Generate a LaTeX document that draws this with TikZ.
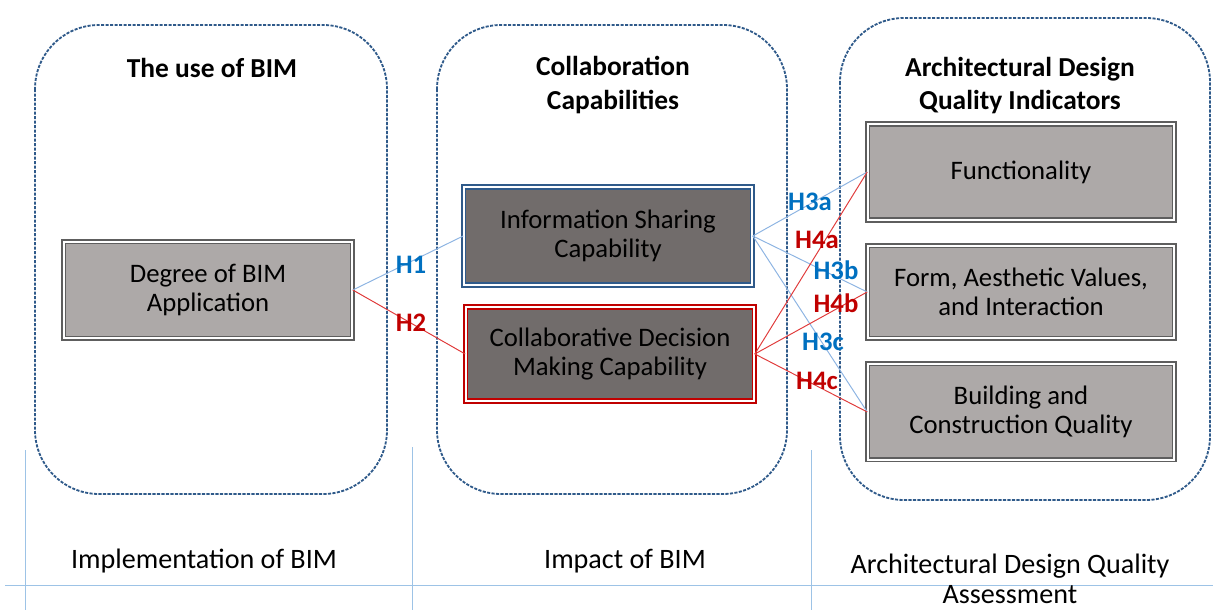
\documentclass[tikz,border=0pt]{standalone}
\usepackage{fontspec}
\setmainfont{Carlito}
\usetikzlibrary{positioning}

\definecolor{panelblue}{HTML}{2F5A8A}
\definecolor{boxgray}{HTML}{ADA9A8}
\definecolor{boxdark}{HTML}{716C6B}
\definecolor{rimgray}{HTML}{5E5E5E}
\definecolor{hblue}{HTML}{0070C0}
\definecolor{hred}{HTML}{C00000}
\definecolor{lineblue}{HTML}{8DB4E2}
\definecolor{linered}{HTML}{E03C3C}
\definecolor{rulerblue}{HTML}{9DC3E6}

\begin{document}
\begin{tikzpicture}[x=0.025cm,y=-0.025cm,
    panel/.style={draw=panelblue,line width=1.3pt,dash pattern=on 2.2pt off 1pt,rounded corners=1.6cm},
    title/.style={font=\fontsize{19.5}{23.5}\selectfont\bfseries,align=center},
    box/.style={draw=rimgray,double=white,double distance=1.4pt,line width=1.1pt,fill=boxgray,
        font=\fontsize{19}{20.8}\selectfont,align=center,inner sep=2pt},
    capbox/.style={box,fill=boxdark},
    hyp/.style={font=\fontsize{19}{20}\selectfont\bfseries,inner sep=1pt},
    blink/.style={draw=lineblue,line width=0.7pt},
    rlink/.style={draw=linered,line width=0.7pt},
    ruler/.style={draw=rulerblue,line width=0.5pt},
    foot/.style={font=\fontsize{20}{21.5}\selectfont,align=center}]
    \useasboundingbox (0,0) rectangle (1213,610);
    % panels
    \draw [panel] (35,25) rectangle (387,494);
    \draw [panel] (437,25) rectangle (787,494);
    \draw [panel] (840,18) rectangle (1210,500);
    \node [title] (T1) at (212,68) {The use of BIM};
    \node [title] (T2) at (613,85) {Collaboration\\Capabilities};
    \node [title] (T3) at (1020,86) {Architectural Design\\Quality Indicators};
    % boxes
    \node [box,minimum width=7.2cm,minimum height=2.42cm] (DEG) at (208,290)
        {Degree of BIM\\Application};
    \node [capbox,draw=panelblue,minimum width=7.2cm,minimum height=2.45cm] (ISC) at (608,236)
        {Information Sharing\\Capability};
    \node [capbox,draw=hred,minimum width=7.2cm,minimum height=2.35cm] (CDM) at (610,354)
        {Collaborative Decision\\Making Capability};
    \node [box,minimum width=7.65cm,minimum height=2.4cm] (FUN) at (1021,172)
        {Functionality};
    \node [box,minimum width=7.65cm,minimum height=2.32cm,below=0.6cm of FUN] (FAV)
        {Form, Aesthetic Values,\\and Interaction};
    \node [box,minimum width=7.65cm,minimum height=2.4cm,below=0.6cm of FAV] (BCQ)
        {Building and\\Construction Quality};
    % links
    \draw [blink] (DEG.east) -- (ISC.west);
    \draw [rlink] (DEG.east) -- (CDM.west);
    \draw [blink] (ISC.east) -- (FUN.west);
    \draw [blink] (ISC.east) -- (FAV.west);
    \draw [blink] (ISC.east) -- (BCQ.west);
    \draw [rlink] (CDM.east) -- (FUN.west);
    \draw [rlink] (CDM.east) -- (FAV.west);
    \draw [rlink] (CDM.east) -- (BCQ.west);
    \node [hyp,text=hblue] (H1) at (411,265) {H1};
    \node [hyp,text=hred] (H2) at (411,323) {H2};
    \node [hyp,text=hblue] (H3a) at (810,202) {H3a};
    \node [hyp,text=hred] (H4a) at (817,240) {H4a};
    \node [hyp,text=hblue] (H3b) at (836,270) {H3b};
    \node [hyp,text=hred] (H4b) at (836,303) {H4b};
    \node [hyp,text=hblue] (H3c) at (823,342) {H3c};
    \node [hyp,text=hred] (H4c) at (817,381) {H4c};
    % stages
    \draw [ruler] (25,450) -- (25,610);
    \draw [ruler] (412,447) -- (412,610);
    \draw [ruler] (811,450) -- (811,610);
    \draw [ruler] (5,585) -- (1213,585);
    \node [foot] (S1) at (204,561) {Implementation of BIM};
    \node [foot] (S2) at (625,561) {Impact of BIM};
    \node [foot] (S3) at (1010,579) {Architectural Design Quality\\Assessment};
\end{tikzpicture}
\end{document}
